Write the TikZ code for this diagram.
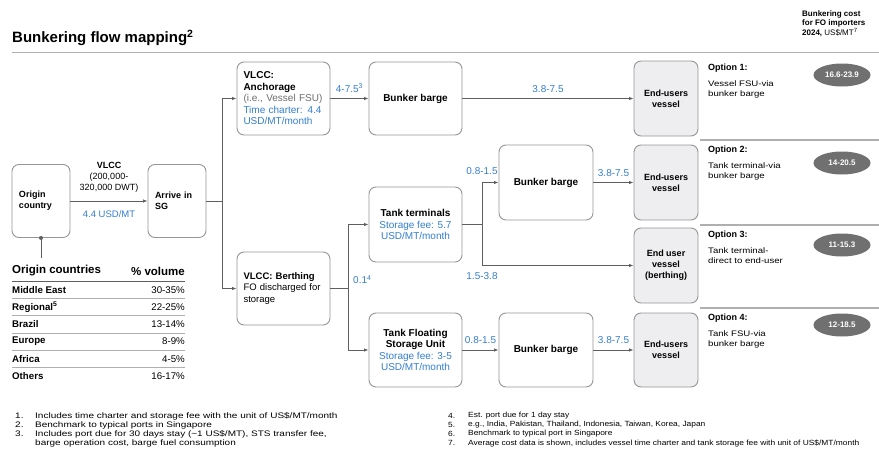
\documentclass[tikz,border=0pt]{standalone}
\usepackage{fontspec}
\setmainfont{Liberation Sans}
\newfontfamily\notefont{Liberation Sans}[FakeStretch=1.12]
\newfontfamily\widefont{Liberation Sans}[FakeStretch=1.2]
\newfontfamily\leftnotefont{Liberation Sans}[FakeStretch=1.25]
\usepackage{tikz}
\usetikzlibrary{arrows.meta,shapes.geometric,positioning,calc}
\definecolor{costblue}{RGB}{52,126,208}
\definecolor{boxline}{RGB}{150,150,150}
\definecolor{flowline}{RGB}{95,95,95}
\definecolor{userfill}{RGB}{238,238,240}
\definecolor{pricefill}{RGB}{112,112,112}
\definecolor{rulegray}{RGB}{175,175,175}
\definecolor{textgray}{RGB}{110,110,110}

\begin{document}
\begin{tikzpicture}[
    x=1pt, y=-1pt,
    box/.style={rectangle, rounded corners=7pt, draw=boxline, line width=0.9pt,
                fill=white, minimum width=93pt, minimum height=73pt, align=center,
                font=\fontsize{10}{11.5}\selectfont\bfseries},
    textbox/.style={box, text width=80pt, align=left},
    portbox/.style={box, minimum width=58pt, text width=44pt, align=left,
                    font=\fontsize{9}{11}\selectfont\bfseries},
    userbox/.style={box, fill=userfill, minimum width=64pt, minimum height=75pt,
                    font=\fontsize{9}{11}\selectfont\bfseries},
    flow/.style={draw=flowline, line width=0.8pt, -{Latex[length=4.5pt,width=3.5pt]}},
    link/.style={draw=flowline, line width=0.8pt},
    cost/.style={inner sep=0pt, text=costblue, font=\fontsize{10}{11}\selectfont},
    pricetag/.style={ellipse, fill=pricefill, minimum width=57pt, minimum height=23pt,
                     inner sep=0pt, text=white, font=\fontsize{8}{9}\selectfont\bfseries},
    option/.style={inner sep=0pt, anchor=west, font=\fontsize{9}{11}\selectfont\bfseries},
    optiontext/.style={inner sep=0pt, anchor=north west, align=left,
                       font=\widefont\fontsize{8}{9.5}\selectfont},
    cell/.style={inner sep=0pt, font=\fontsize{9.7}{11}\selectfont},
    note/.style={inner sep=0pt, anchor=west, font=\notefont\fontsize{7.5}{9}\selectfont},
    leftnote/.style={note, font=\leftnotefont\fontsize{8}{9}\selectfont},
]
\useasboundingbox (0,0) rectangle (879,463);

% Heading
\node[inner sep=0pt, anchor=west, font=\fontsize{15}{18}\selectfont\bfseries] (title) at (12,38) {Bunkering flow mapping\textsuperscript{2}};
\node[inner sep=0pt, anchor=north west, align=left, font=\fontsize{8}{8.5}\selectfont] (costhead) at (802,11)
    {\textbf{Bunkering cost}\\\textbf{for FO importers}\\\textbf{2024,} US\$/MT\textsuperscript{7}};
\draw[rulegray, line width=1pt] (12,52) -- (879,52);

% Origin to Singapore
\node[portbox] (origin) at (41,201) {Origin\\country};
\node[portbox] (arrive) at (177,201) {Arrive in\\SG};
\draw[flow] (origin) -- (arrive)
    node[midway, above=8pt, cell, font=\fontsize{9}{11}\selectfont, align=center] {\textbf{VLCC}\\(200,000-\\320,000 DWT)}
    node[midway, below=9pt, cost, font=\fontsize{9.5}{11}\selectfont] {4.4 USD/MT};

% Origin countries table
\coordinate (tabtop) at (41,258);
\fill[flowline] (origin.south) circle (2);
\draw[link] (origin.south) -- (tabtop);
\node[cell, anchor=west, font=\fontsize{11.5}{13}\selectfont\bfseries] (tabname) at (12,271) {Origin countries};
\node[cell, anchor=east, font=\fontsize{11.5}{13}\selectfont\bfseries] (tabshare) at (185,271) {\% volume};
\draw[flowline, line width=0.9pt] (12,281) -- (185,281);
\foreach \region/\share [count=\i] in {Middle East/30-35\%, {Regional\textsuperscript{5}}/22-25\%,
    Brazil/13-14\%, Europe/8-9\%, Africa/4-5\%, Others/16-17\%} {
  \node[cell, anchor=west, font=\fontsize{9.7}{11}\selectfont\bfseries] (region\i) at (12,{290+(\i-1)*17.2}) {\region};
  \node[cell, anchor=east] (share\i) at (185,{290+(\i-1)*17.2}) {\share};
}
\foreach \i in {1,...,5}
  \draw[rulegray, line width=0.6pt] (12,{298.5+(\i-1)*17.2}) -- (185,{298.5+(\i-1)*17.2});

% Anchorage and berthing
\coordinate (fork1) at (222,201);
\node[textbox] (anchorage) at (283.5,98.5)
    {VLCC:\\Anchorage\\{\mdseries\color{textgray}(i.e., Vessel FSU)}\\{\mdseries\color{costblue}Time charter: 4.4}\\{\mdseries\color{costblue}USD/MT/month}};
\node[textbox, font=\fontsize{9.5}{11.5}\selectfont\bfseries] (berthing) at (283.5,288.5) {VLCC: Berthing\\{\mdseries FO discharged for}\\{\mdseries storage}};
\draw[link] (arrive) -- (fork1);
\draw[flow] (fork1) |- (anchorage);
\draw[flow] (fork1) |- (berthing);

% Option 1 route
\node[box] (barge1) at (415.5,98.5) {Bunker barge};
\node[userbox] (user1) at (666,98.5) {End-users\\vessel};
\draw[flow] (anchorage) -- (barge1) node[midway, above=6pt, cost] {4-7.5\textsuperscript{3}};
\draw[flow] (barge1) -- (user1) node[midway, above=6pt, cost] {3.8-7.5};

% Storage on shore or afloat
\coordinate (fork2) at (348,288.5);
\node[box, minimum height=75pt] (terminal) at (415.5,224.5)
    {Tank terminals\\{\mdseries\color{costblue}Storage fee: 5.7}\\{\mdseries\color{costblue}USD/MT/month}};
\node[box, minimum height=74pt] (tankfsu) at (415.5,350)
    {Tank Floating\\Storage Unit\\{\mdseries\color{costblue}Storage fee: 3-5}\\{\mdseries\color{costblue}USD/MT/month}};
\draw[link] (berthing) -- (fork2);
\draw[flow] (fork2) |- (terminal);
\draw[flow] (fork2) |- (tankfsu);
\node[cost, anchor=west] (berthcost) at ($(fork2)+(5,-9)$) {0.1\textsuperscript{4}};

% Options 2 and 3
\coordinate (fork3) at (482,224.5);
\node[box, minimum width=94pt, minimum height=75pt] (barge2) at (546,182.5) {Bunker barge};
\node[userbox] (user2) at (666,182.5) {End-users\\vessel};
\node[userbox] (user3) at (666,265.5) {End user\\vessel\\(berthing)};
\draw[link] (terminal) -- (fork3);
\draw[flow] (fork3) |- (barge2);
\draw[flow] (fork3) |- (user3);
\node[cost] (termbarge) at ($(fork3 |- barge2)+(0,-11)$) {0.8-1.5};
\node[cost] (termuser) at ($(fork3 |- user3)+(0,11)$) {1.5-3.8};
\draw[flow] (barge2) -- (user2) node[midway, above=6pt, cost] {3.8-7.5};

% Option 4
\node[box, minimum width=94pt, minimum height=74pt] (barge3) at (546,350) {Bunker barge};
\node[userbox, minimum height=74pt] (user4) at (666,350) {End-users\\vessel};
\draw[flow] (tankfsu) -- (barge3) node[midway, above=6pt, cost] {0.8-1.5};
\draw[flow] (barge3) -- (user4) node[midway, above=6pt, cost] {3.8-7.5};

% Options and costs
\foreach \y in {140,225,308}
  \draw[rulegray, line width=1.2pt] (700,\y) -- (879,\y);
\foreach \n/\ty/\py/\desc/\price in {1/68/75/{Vessel FSU-via\\bunker barge}/16.6-23.9,
    2/150/163/{Tank terminal-via\\bunker barge}/14-20.5,
    3/235/245/{Tank terminal-\\direct to end-user}/11-15.3,
    4/318/325/{Tank FSU-via\\bunker barge}/12-18.5} {
  \node[option] (opt\n) at (708,\ty) {Option \n:};
  \node[optiontext] (optdesc\n) at (708,\ty+13) {\desc};
  \node[pricetag] (price\n) at (842,\py) {\price};
}

% Footnotes
\foreach \n/\y/\txt in {
    1./416/{Includes time charter and storage fee with the unit of US\$/MT/month},
    2./425/{Benchmark to typical ports in Singapore},
    3./434/{Includes port due for 30 days stay (\textasciitilde1 US\$/MT), STS transfer fee,},
    /443/{barge operation cost, barge fuel consumption}} {
  \node[leftnote] at (15,\y) {\n};
  \node[leftnote] at (35,\y) {\txt};
}
\foreach \n/\y/\txt in {
    4./416/{Est. port due for 1 day stay},
    5./425/{e.g., India, Pakistan, Thailand, Indonesia, Taiwan, Korea, Japan},
    6./434/{Benchmark to typical port in Singapore},
    7./443/{Average cost data is shown, includes vessel time charter and tank storage fee with unit of US\$/MT/month}} {
  \node[note] at (448,\y) {\n};
  \node[note] at (468,\y) {\txt};
}
\end{tikzpicture}
\end{document}
